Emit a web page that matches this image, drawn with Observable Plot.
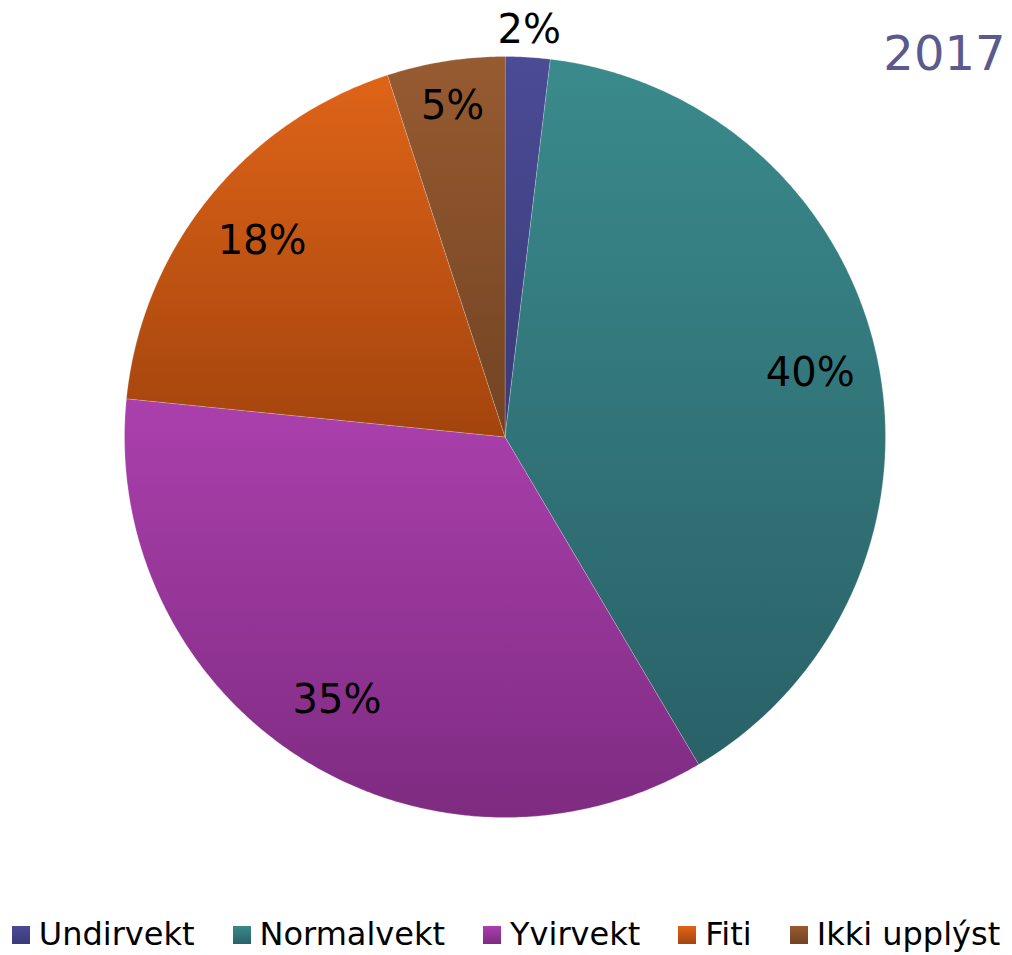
<!DOCTYPE html>
<html>
<head>
<meta charset="utf-8">
<script src="https://cdn.jsdelivr.net/npm/d3@7"></script>
<script src="https://cdn.jsdelivr.net/npm/@observablehq/plot@0.6"></script>
<style>
  html, body { margin: 0; padding: 0; background: #fff; }
  #chart { width: 1012px; }
  #legend { display: flex; justify-content: center; align-items: center; width: 1012px;
    font-family: "DejaVu Sans", Verdana, sans-serif; font-size: 32px; line-height: 40px;
    padding-top: 9px; color: #000; }
  .item { display: flex; align-items: center; margin: 0 19px; }
  .item:first-child { margin-left: 0; }
  .item:last-child { margin-right: 0; }
  .sw { width: 18px; height: 18px; margin-right: 9px; margin-top: 2px; }
</style>
</head>
<body>
<div id="chart"></div>
<div id="legend"></div>
<script>
// ---- data ----
const categories = ["Undirvekt", "Normalvekt", "Yvirvekt", "Fiti", "Ikki upplýst"];
const shares = [1.9, 39.6, 35.1, 18.4, 5.0];
const title = "2017";
const colorsTop = ["#4b4b96", "#3a8a8c", "#ab40ad", "#df6418", "#975b31"];
const colorsBottom = ["#393a78", "#296167", "#7e2b81", "#a3440d", "#724323"];

// ---- layout ----
const W = 1012, H = 905;
const cx = 504.5, cy = 436.5, R = 380.5;

const table = categories.map((c, i) => ({category: c, share: shares[i], i}));
const pie = d3.pie().value(d => d.share).sort(null)(table);

// build slice outlines from the pie angles (0 = top, clockwise)
const pt = (a, rr) => [cx + rr * Math.sin(a), cy - rr * Math.cos(a)];
const slicePts = pie.map(p => {
  const pts = [{category: p.data.category, x: cx, y: cy}];
  const n = Math.max(4, Math.ceil((p.endAngle - p.startAngle) / 0.01));
  for (let k = 0; k <= n; k++) {
    const a = p.startAngle + (p.endAngle - p.startAngle) * k / n;
    const [x, y] = pt(a, R);
    pts.push({category: p.data.category, x, y});
  }
  return pts;
});

const labels = pie.map(p => {
  const mid = (p.startAngle + p.endAngle) / 2;
  const s = p.data.share;
  const rr = s < 3 ? R * 1.07 : s < 8 ? R * 0.88 : R * 0.82;
  const [x, y] = pt(mid, rr);
  return {x, y, text: Math.round(s) + "%"};
});

const defs = () => {
  const d = d3.create("svg:defs");
  categories.forEach((c, i) => {
    const g = d.append("linearGradient").attr("id", "g" + i)
      .attr("x1", 0).attr("y1", 0).attr("x2", 0).attr("y2", 1);
    g.append("stop").attr("offset", "0%").attr("stop-color", colorsTop[i]);
    g.append("stop").attr("offset", "100%").attr("stop-color", colorsBottom[i]);
  });
  return d.node();
};

const chart = Plot.plot({
  width: W, height: H,
  margin: 0,
  x: {domain: [0, W], range: [0, W], axis: null},
  y: {domain: [0, H], range: [0, H], axis: null},
  style: {fontFamily: "'DejaVu Sans', Verdana, sans-serif", background: "#fff"},
  marks: [
    defs,
    ...slicePts.map((pts, i) => Plot.line(pts, {
      x: "x", y: "y", curve: "linear-closed",
      fill: `url(#g${i})`, stroke: "#ffffff", strokeWidth: 0.4, strokeOpacity: 0.6
    })),
    Plot.text(labels, {x: "x", y: "y", text: "text", fontSize: 40, fill: "#000", textAnchor: "middle", lineAnchor: "middle"}),
    Plot.text([title], {frameAnchor: "top-right", dx: -7, dy: 35, fontSize: 48, fill: "#5a5a8e", lineAnchor: "top"})
  ]
});
document.getElementById("chart").append(chart);

const legend = document.getElementById("legend");
categories.forEach((c, i) => {
  const it = document.createElement("div");
  it.className = "item";
  const sw = document.createElement("div");
  sw.className = "sw";
  sw.style.background = `linear-gradient(${colorsTop[i]}, ${colorsBottom[i]})`;
  const t = document.createElement("span");
  t.textContent = c;
  it.append(sw, t);
  legend.append(it);
});
</script>
</body>
</html>
